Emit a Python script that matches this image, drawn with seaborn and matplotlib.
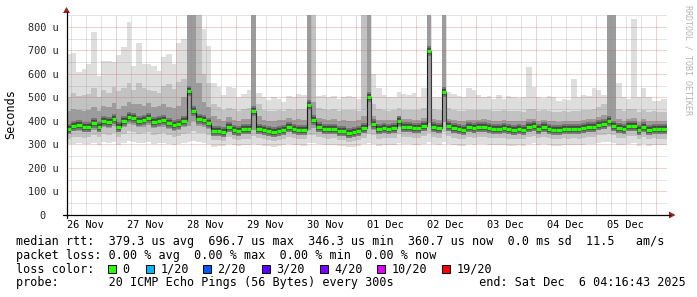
import numpy as np
import pandas as pd
import matplotlib
matplotlib.use("Agg")
import matplotlib.pyplot as plt
import matplotlib.dates as mdates
from matplotlib.lines import Line2D
from matplotlib.patches import Rectangle, Polygon
import seaborn as sns

# ---------------- data (microseconds, 2-hour steps) ----------------
start_time = "2025-11-26 04:16:43"
step_hours = 2

rtt_med = [
    366, 377, 381, 374, 375, 389, 376, 401, 396, 410, 373, 401, 415, 412, 400,
    405, 414, 395, 400, 404, 390, 381, 388, 400, 527, 444, 408, 405, 392, 356,
    357, 352, 374, 360, 357, 364, 364, 440, 364, 360, 358, 353, 357, 362, 373,
    366, 363, 362, 468, 405, 373, 366, 364, 366, 358, 358, 349, 353, 358, 370,
    503, 385, 365, 370, 366, 370, 398, 374, 373, 370, 370, 380, 699, 372, 368,
    524, 378, 368, 366, 362, 373, 370, 373, 375, 370, 366, 366, 370, 365, 360,
    364, 363, 373, 380, 365, 373, 366, 363, 362, 366, 364, 366, 364, 370, 373,
    375, 383, 388, 398, 380, 370, 366, 377, 379, 360, 375, 362, 365, 364, 364,
]
rtt_max = [
    684, 690, 607, 621, 642, 779, 590, 656, 656, 649, 678, 712, 820, 635, 733,
    642, 642, 635, 610, 670, 684, 640, 733, 747, 900, 900, 900, 790, 720, 560,
    545, 510, 545, 540, 500, 515, 530, 900, 520, 503, 490, 500, 495, 480, 505,
    500, 515, 510, 900, 900, 505, 510, 500, 505, 495, 500, 505, 500, 495, 900,
    900, 600, 538, 510, 500, 503, 524, 515, 510, 520, 500, 540, 900, 500, 500,
    900, 524, 515, 505, 500, 538, 530, 510, 500, 505, 495, 510, 495, 505, 500,
    498, 500, 629, 545, 500, 496, 505, 500, 485, 495, 490, 580, 500, 510, 505,
    538, 530, 510, 900, 900, 560, 500, 495, 835, 500, 538, 500, 485, 485, 495,
]
rtt_p90 = [
    500, 520, 505, 510, 515, 540, 500, 530, 520, 545, 525, 540, 560, 530, 560,
    540, 530, 525, 520, 550, 555, 535, 565, 580, 900, 900, 900, 600, 560, 470,
    460, 445, 455, 450, 440, 450, 455, 900, 470, 445, 440, 440, 445, 440, 450,
    445, 450, 450, 900, 900, 455, 450, 445, 450, 440, 445, 445, 445, 440, 900,
    900, 470, 450, 445, 440, 445, 455, 445, 445, 448, 445, 455, 900, 450, 445,
    900, 455, 445, 442, 440, 448, 446, 445, 448, 445, 440, 442, 445, 440, 440,
    440, 438, 450, 452, 440, 445, 440, 438, 436, 440, 438, 442, 440, 445, 448,
    450, 460, 470, 900, 900, 450, 440, 450, 452, 436, 448, 438, 440, 438, 438,
]
rtt_p75 = [
    440, 450, 445, 440, 445, 460, 440, 465, 460, 475, 450, 465, 480, 470, 470,
    465, 475, 460, 465, 470, 460, 455, 465, 500, 900, 900, 560, 480, 460, 420,
    410, 400, 415, 405, 400, 408, 410, 900, 420, 405, 400, 400, 402, 405, 412,
    405, 408, 405, 900, 480, 412, 408, 405, 408, 400, 402, 398, 400, 402, 420,
    900, 420, 405, 405, 402, 405, 420, 408, 406, 405, 405, 412, 900, 408, 402,
    900, 410, 402, 400, 398, 405, 403, 405, 406, 402, 400, 400, 402, 400, 398,
    400, 398, 408, 410, 400, 405, 400, 398, 396, 400, 398, 400, 400, 405, 408,
    410, 418, 425, 900, 900, 408, 400, 410, 412, 396, 408, 398, 400, 398, 398,
]
rtt_p25 = [
    348, 355, 358, 352, 353, 362, 353, 372, 368, 380, 352, 372, 385, 382, 372,
    376, 384, 368, 372, 375, 364, 356, 362, 372, 380, 400, 380, 376, 365, 338,
    340, 336, 352, 342, 340, 346, 346, 360, 348, 342, 340, 336, 340, 344, 354,
    348, 345, 344, 362, 370, 354, 348, 346, 348, 340, 340, 332, 336, 340, 350,
    380, 362, 346, 350, 347, 350, 372, 354, 352, 350, 350, 358, 390, 352, 348,
    395, 356, 348, 346, 343, 352, 350, 352, 354, 350, 347, 347, 350, 346, 342,
    345, 344, 352, 358, 346, 352, 347, 344, 343, 347, 345, 347, 345, 350, 352,
    354, 362, 366, 372, 360, 350, 347, 356, 358, 342, 354, 343, 346, 345, 345,
]
rtt_p10 = [
    325, 330, 332, 328, 330, 338, 330, 345, 342, 350, 330, 345, 355, 352, 345,
    348, 354, 342, 345, 348, 338, 332, 336, 345, 350, 355, 350, 348, 340, 318,
    320, 316, 330, 322, 320, 325, 325, 335, 326, 322, 320, 316, 320, 324, 332,
    326, 324, 322, 338, 342, 332, 326, 324, 326, 320, 320, 312, 316, 320, 328,
    345, 338, 325, 328, 326, 328, 345, 330, 330, 328, 328, 335, 350, 330, 326,
    352, 334, 326, 325, 322, 330, 328, 330, 332, 328, 326, 326, 328, 325, 322,
    325, 324, 330, 335, 326, 330, 326, 324, 323, 326, 325, 326, 325, 328, 330,
    332, 338, 342, 345, 338, 328, 326, 334, 335, 322, 332, 323, 326, 325, 325,
]
rtt_min = [
    300, 302, 305, 300, 302, 306, 298, 310, 305, 312, 298, 308, 315, 310, 305,
    308, 312, 302, 305, 308, 300, 298, 300, 305, 310, 315, 310, 305, 300, 290,
    295, 292, 300, 296, 294, 298, 298, 302, 298, 295, 292, 290, 294, 296, 302,
    298, 296, 295, 305, 308, 300, 298, 296, 298, 294, 292, 288, 290, 294, 300,
    305, 300, 295, 298, 296, 298, 308, 300, 300, 298, 298, 302, 310, 300, 296,
    312, 302, 296, 295, 292, 300, 298, 300, 302, 298, 296, 296, 298, 295, 292,
    296, 295, 300, 305, 296, 300, 297, 295, 294, 297, 296, 297, 296, 299, 300,
    302, 306, 310, 312, 305, 299, 297, 302, 304, 293, 302, 294, 296, 296, 296,
]

y_ticks = [0, 100, 200, 300, 400, 500, 600, 700, 800]
y_tick_labels = ["0  ", "100 u", "200 u", "300 u", "400 u", "500 u",
                 "600 u", "700 u", "800 u"]
day_labels = ["26 Nov", "27 Nov", "28 Nov", "29 Nov", "30 Nov",
              "01 Dec", "02 Dec", "03 Dec", "04 Dec", "05 Dec"]
first_label_noon = "2025-11-26 12:00"

loss_labels = ["0", "1/20", "2/20", "3/20", "4/20", "10/20", "19/20"]
loss_colors = ["#26ff00", "#00b8ff", "#0059ff", "#5e00ff", "#7e00ff",
               "#dd00ff", "#ff0000"]

line_rtt = ("median rtt:  379.3 us avg  696.7 us max  346.3 us min  "
            "360.7 us now  0.0 ms sd  11.5   am/s")
line_loss = "packet loss: 0.00 % avg  0.00 % max  0.00 % min  0.00 % now"
line_lc = "loss color:"
line_probe = ("probe:       20 ICMP Echo Pings (56 Bytes) every 300s"
              "            end: Sat Dec  6 04:16:43 2025")

# ---------------- style ----------------
sns.set_theme(style="white")
plt.rcParams["font.family"] = ["DejaVu Sans Mono", "DejaVu Sans"]
plt.rcParams["text.color"] = "black"

W, H = 697, 297
fig = plt.figure(figsize=(W / 100, H / 100), dpi=100, facecolor="white")
ax = fig.add_axes([66.5 / W, 82 / H, 600 / W, 200 / H])
ax.set_facecolor("white")

n = len(rtt_med)
edges = pd.date_range(pd.Timestamp(start_time), periods=n + 1,
                      freq=f"{step_hours}h")
xe = mdates.date2num(edges)


def ext(a):
    a = np.asarray(a, dtype=float)
    return np.append(a, a[-1])


ax.fill_between(xe, ext(rtt_min), ext(rtt_max), step="post",
                color="#dedede", lw=0, zorder=1)
ax.fill_between(xe, ext(rtt_p10), ext(rtt_p90), step="post",
                color="#c2c2c2", lw=0, zorder=1.1)
ax.fill_between(xe, ext(rtt_p25), ext(rtt_p75), step="post",
                color="#9c9c9c", lw=0, zorder=1.2)
# dark core of the smoke around the median
ax.hlines(rtt_med, xe[:-1], xe[1:], color="#727272", lw=7.0, zorder=1.3)
ax.hlines(rtt_med, xe[:-1], xe[1:], color="#444444", lw=4.2, zorder=1.35)

df = pd.DataFrame({"t": xe, "rtt": ext(rtt_med)})
sns.lineplot(data=df, x="t", y="rtt", drawstyle="steps-post",
             color="#1a1a1a", lw=0.8, ax=ax, estimator=None, zorder=1.4)
ax.hlines(rtt_med, xe[:-1], xe[1:], color=loss_colors[0], lw=2.4, zorder=3)

ax.set_xlim(xe[0], xe[-1])
ax.set_ylim(0, 839)
ax.set_xlabel("")
ax.set_ylabel("")
for s in ax.spines.values():
    s.set_visible(False)

midnights = pd.date_range(edges[0].ceil("D"), edges[-1].floor("D"), freq="D")
six_h = pd.date_range(edges[0].ceil("6h"), edges[-1], freq="6h")
six_h = six_h[six_h.hour != 0]
ax.set_xticks(mdates.date2num(midnights))
ax.set_xticks(mdates.date2num(six_h), minor=True)
ax.set_yticks(y_ticks)
ax.set_yticklabels(y_tick_labels)
ax.set_yticks([v + 50 for v in y_ticks], minor=True)

ax.set_axisbelow(False)
ax.grid(which="major", color="#c86464", alpha=0.6, lw=0.72,
        ls=(0, (1, 1)), zorder=2.5)
ax.grid(which="minor", color="#909090", alpha=0.5, lw=0.72,
        ls=(0, (1, 1)), zorder=2.5)
ax.tick_params(axis="x", which="major", labelbottom=False, length=2.5,
               width=0.72, color="#dea2a2", direction="out")
ax.tick_params(axis="x", which="minor", length=0, labelbottom=False)
ax.tick_params(axis="y", which="both", length=0, pad=5.8, labelsize=7.4)
ax.tick_params(axis="y", which="minor", labelleft=False)

noon0 = pd.Timestamp(first_label_noon)
for k, lab in enumerate(day_labels):
    xt = mdates.date2num(noon0 + pd.Timedelta(days=k))
    ax.text(xt, -13.5 / 200, lab, transform=ax.get_xaxis_transform(),
            ha="center", va="baseline", fontsize=7.4)


# ---------------- axes lines & arrows (figure pixels) ----------------
def fx(px):
    return px / W


def fy(py):
    return 1 - py / H


fig.add_artist(Line2D([fx(62.5), fx(670)], [fy(215), fy(215)],
                      transform=fig.transFigure, color="black", lw=0.9))
fig.add_artist(Line2D([fx(66.5), fx(66.5)], [fy(218), fy(12)],
                      transform=fig.transFigure, color="black", lw=0.9))
arrow_col = "#992222"
fig.add_artist(Polygon([[fx(669), fy(211.5)], [fx(669), fy(218.5)],
                        [fx(675.5), fy(215)]], closed=True,
                       transform=fig.transFigure, color=arrow_col, lw=0))
fig.add_artist(Polygon([[fx(63), fy(13)], [fx(70), fy(13)],
                        [fx(66.5), fy(7)]], closed=True,
                       transform=fig.transFigure, color=arrow_col, lw=0))

# ---------------- texts ----------------
fig.text(fx(11), fy(114.5), "Seconds", rotation=90, ha="center",
         va="center", fontsize=8.5)
fig.text(fx(688), fy(60), "RRDTOOL / TOBI OETIKER", rotation=270,
         ha="center", va="center", fontsize=6, color="#b4b4b4")

fs = 8.5
fig.text(fx(16), fy(245.5), line_rtt, fontsize=fs, va="baseline")
fig.text(fx(16), fy(259), line_loss, fontsize=fs, va="baseline")
fig.text(fx(16), fy(272.7), line_lc, fontsize=fs, va="baseline")
fig.text(fx(16), fy(286.3), line_probe, fontsize=fs, va="baseline")

box_x = [108, 146, 203, 262, 320, 377, 442]
for bx, lab, col in zip(box_x, loss_labels, loss_colors):
    fig.add_artist(Rectangle((fx(bx), fy(273)), 8 / W, 8 / H,
                             transform=fig.transFigure, facecolor=col,
                             edgecolor="black", lw=0.7))
    fig.text(fx(bx + 14.5), fy(272.7), lab, fontsize=fs, va="baseline")

fig.savefig("out.png", dpi=100, facecolor="white")
